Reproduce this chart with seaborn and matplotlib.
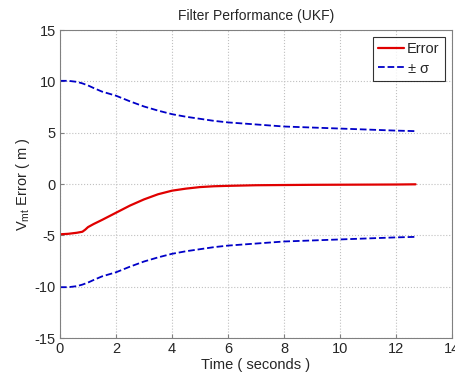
import numpy as np
import pandas as pd
import matplotlib
matplotlib.use("Agg")
import matplotlib.pyplot as plt
import seaborn as sns

# values
time = [0.0, 0.3, 0.6, 0.8, 0.9, 1.0, 1.2, 1.5, 2.0, 2.5, 3.0, 3.5, 4.0, 4.5, 5.0,
        5.5, 6.0, 7.0, 8.0, 9.0, 10.0, 11.0, 12.0, 12.7]
error = [-4.9, -4.85, -4.75, -4.65, -4.45, -4.2, -3.9, -3.5, -2.8, -2.1, -1.5, -1.0, -0.65,
         -0.45, -0.3, -0.22, -0.18, -0.12, -0.1, -0.08, -0.07, -0.06, -0.05, -0.03]
sigma = [10.05, 10.05, 9.95, 9.8, 9.7, 9.6, 9.35, 9.0, 8.6, 8.05, 7.55, 7.15, 6.8, 6.55,
         6.35, 6.15, 6.0, 5.8, 5.6, 5.5, 5.4, 5.3, 5.2, 5.15]

df = pd.DataFrame({"time": time, "error": error, "sigma": sigma})

sns.set_style("ticks")
plt.rcParams['font.family'] = ['Liberation Sans', 'DejaVu Sans']
plt.rcParams['axes.unicode_minus'] = False
plt.rcParams['mathtext.fontset'] = 'custom'
plt.rcParams['mathtext.rm'] = 'Liberation Sans'
plt.rcParams['mathtext.it'] = 'Liberation Sans'

fig = plt.figure(figsize=(4.56, 3.75), dpi=100)
ax = fig.add_axes([60 / 456, 37 / 375, 392 / 456, 308 / 375])

sns.lineplot(data=df, x="time", y="error", color="#e00000", linewidth=1.6, ax=ax, label="Error")
sns.lineplot(data=df, x="time", y="sigma", color="#0000c8", linewidth=1.3, linestyle="--",
             ax=ax, label="$\\pm$ \u03c3")
sns.lineplot(x=df["time"], y=-df["sigma"], color="#0000c8", linewidth=1.3, linestyle="--", ax=ax)

ax.set_xlim(0, 14)
ax.set_ylim(-15, 15)
ax.set_xticks(range(0, 15, 2))
ax.set_yticks(range(-15, 16, 5))
ax.grid(True, color="#c0c0c0", linestyle=":", linewidth=0.8)
for s in ax.spines.values():
    s.set_color("#808080")
    s.set_linewidth(0.8)
ax.tick_params(direction="in", length=3, color="#808080", labelsize=10.5, pad=3)

ax.set_title("Filter Performance (UKF)", fontsize=10, pad=7)
ax.set_xlabel("Time ( seconds )", fontsize=10.5, labelpad=1)
ax.set_ylabel("V$_{\\mathrm{mt}}$ Error ( m )", fontsize=10.5, labelpad=2)

leg = ax.legend(loc="upper right", fontsize=10.5, frameon=True, fancybox=False,
                edgecolor="black", handlelength=1.8, borderaxespad=0.5,
                handletextpad=0.2, borderpad=0.35, labelspacing=0.35)
leg.get_frame().set_linewidth(0.8)

fig.savefig("out.png", dpi=100)
